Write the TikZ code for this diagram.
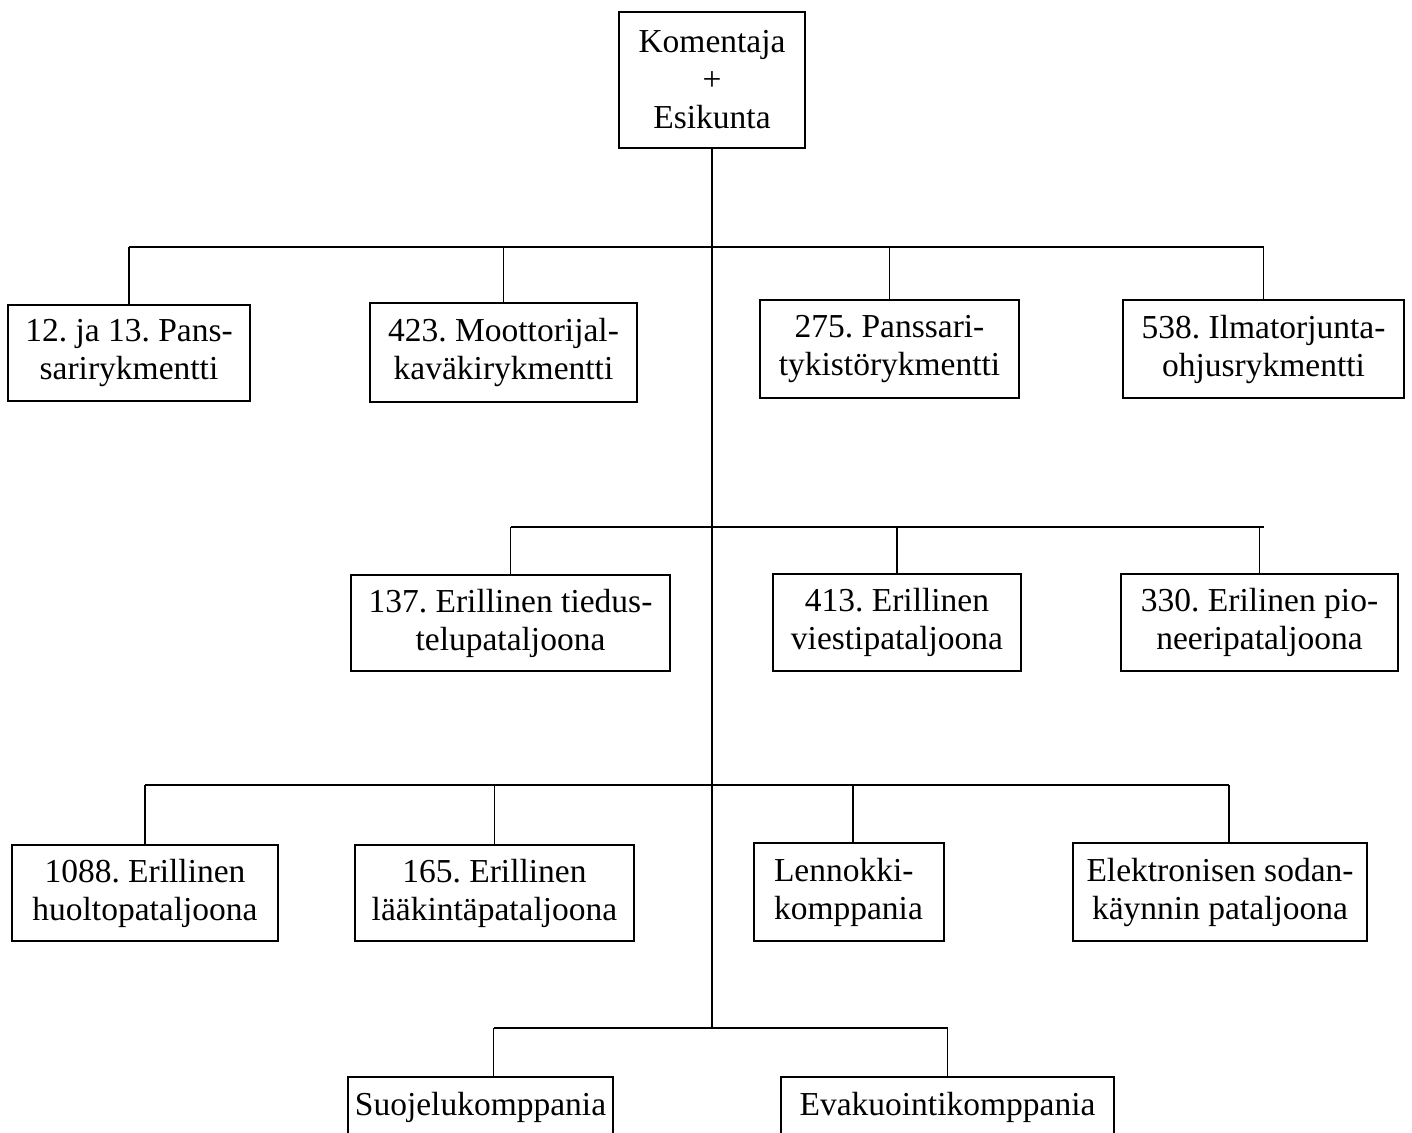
\documentclass[tikz,border=0pt]{standalone}
\usepackage{fontspec}
\setmainfont{Liberation Serif}
\frenchspacing
\begin{document}
\begin{tikzpicture}[x=1pt,y=-1pt,
  box/.style={draw,line width=1.8pt,align=center,inner sep=0pt,
    font=\fontsize{33.5}{38}\selectfont\frenchspacing},
  link/.style={line width=1.8pt}]
\useasboundingbox (0,0) rectangle (1412,1132);
\clip (0,0) rectangle (1412,1132);
% top
\node[box,minimum width=186,minimum height=136] (top) at (712,80) {Komentaja\\+\\Esikunta};
% row 1
\node[box,minimum width=242,minimum height=96] (a) at (129,353) {12. ja 13. Pans-\\sarirykmentti};
\node[box,minimum width=267,minimum height=99] (b) at (503.5,352.5) {423. Moottorijal-\\kaväkirykmentti};
\node[box,minimum width=259,minimum height=98] (c) at (889.5,349) {275. Panssari-\\tykistörykmentti};
\node[box,minimum width=281,minimum height=98] (d) at (1263.5,349) {538. Ilmatorjunta-\\ohjusrykmentti};
% row 2
\node[box,minimum width=319,minimum height=96] (e) at (510.5,623) {137. Erillinen tiedus-\\telupataljoona};
\node[box,minimum width=248,minimum height=97] (f) at (897,622.5) {413. Erillinen\\viestipataljoona};
\node[box,minimum width=277,minimum height=97] (g) at (1259.5,622.5) {330. Erilinen pio-\\neeripataljoona};
% row 3
\node[box,minimum width=266,minimum height=96] (h) at (145,893) {1088. Erillinen\\huoltopataljoona};
\node[box,minimum width=279,minimum height=96] (i) at (494.5,893) {165. Erillinen\\lääkintäpataljoona};
\node[box,minimum width=190,minimum height=98,align=left,text width=150] (j) at (849,892) {Lennokki-\\komppania};
\node[box,minimum width=294,minimum height=98] (k) at (1220,892) {Elektronisen sodan-\\käynnin pataljoona};
% row 4
\node[box,minimum width=265,minimum height=60] (l) at (480.5,1107) {Suojelukomppania};
\node[box,minimum width=333,minimum height=60] (m) at (947.5,1107) {Evakuointikomppania};
% bus coordinates
\coordinate (bus1) at (712,247);
\coordinate (bus2) at (712,527);
\coordinate (bus3) at (712,785);
\coordinate (bus4) at (712,1028);
% trunk
\draw[link] (top.south) -- (bus4);
% row 1 bus
\draw[link] (a.north |- bus1) -- (d.north |- bus1);
\foreach \n in {a,b,c,d} \draw[link] (\n.north) -- (\n.north |- bus1);
% row 2 bus
\draw[link] (e.north |- bus2) -- ([xshift=4pt]g.north |- bus2);
\foreach \n in {e,f,g} \draw[link] (\n.north) -- (\n.north |- bus2);
% row 3 bus
\coordinate (kt) at ([xshift=9pt]k.north);
\draw[link] (h.north |- bus3) -- (kt |- bus3);
\foreach \n in {h,i} \draw[link] (\n.north) -- (\n.north |- bus3);
\coordinate (jt) at ([xshift=4pt]j.north);
\draw[link] (jt) -- (jt |- bus3);
\draw[link] (kt) -- (kt |- bus3);
% row 4 bus
\coordinate (lt) at ([xshift=13pt]l.north);
\draw[link] (lt |- bus4) -- (m.north |- bus4);
\draw[link] (lt) -- (lt |- bus4);
\draw[link] (m.north) -- (m.north |- bus4);
\end{tikzpicture}
\end{document}
